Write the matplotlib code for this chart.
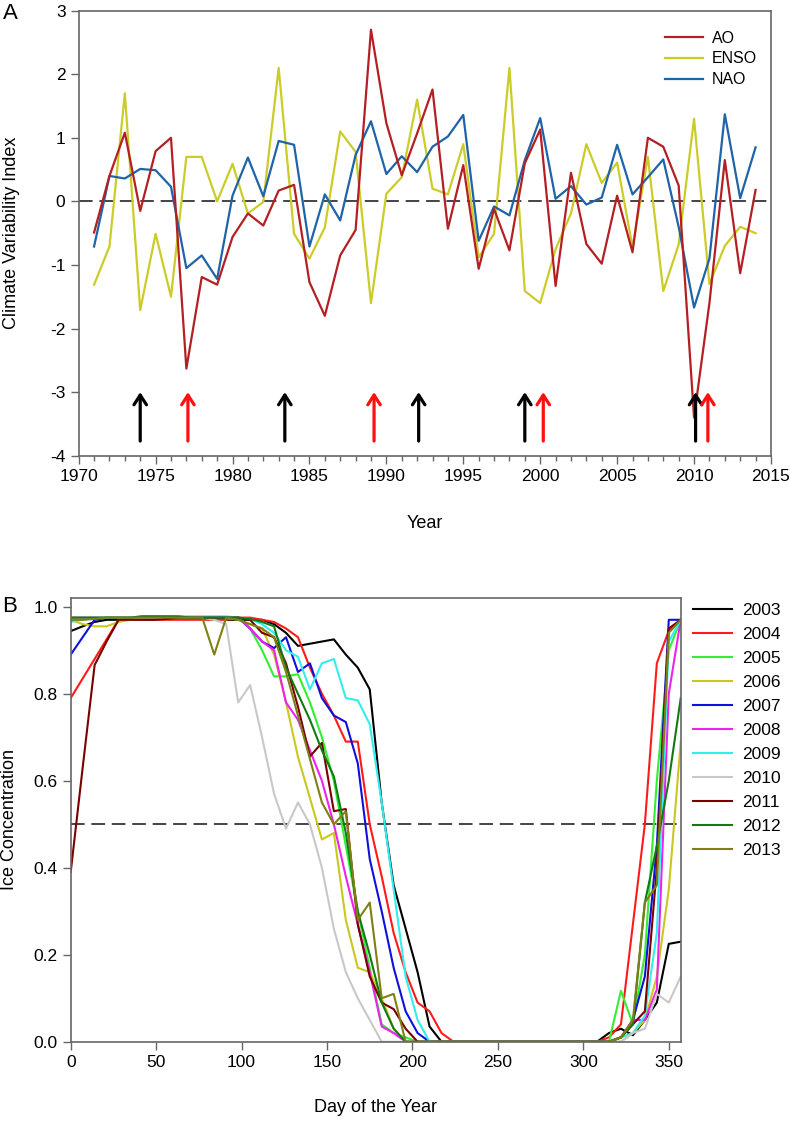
import numpy as np
import matplotlib
matplotlib.use('Agg')
import matplotlib.pyplot as plt

plt.rcParams['font.family'] = ['Liberation Sans', 'DejaVu Sans']
plt.rcParams['axes.unicode_minus'] = False

# panel A data, climate indices by year
years = list(range(1971, 2015))
ao = [-0.49, 0.40, 1.08, -0.15, 0.79, 1.00, -2.63, -1.19, -1.31, -0.56,
      -0.19, -0.38, 0.17, 0.26, -1.27, -1.80, -0.85, -0.45, 2.70, 1.23,
      0.41, 1.07, 1.76, -0.43, 0.57, -1.06, -0.12, -0.77, 0.60, 1.13,
      -1.33, 0.45, -0.67, -0.98, 0.09, -0.80, 1.00, 0.86, 0.25, -3.40,
      -1.60, 0.65, -1.13, 0.18]
enso = [-1.31, -0.71, 1.70, -1.71, -0.51, -1.50, 0.70, 0.70, 0.00, 0.59,
        -0.19, -0.01, 2.10, -0.51, -0.90, -0.41, 1.10, 0.78, -1.60, 0.12,
        0.38, 1.60, 0.20, 0.11, 0.90, -0.88, -0.51, 2.10, -1.41, -1.60,
        -0.75, -0.19, 0.90, 0.29, 0.61, -0.72, 0.70, -1.41, -0.68, 1.30,
        -1.30, -0.70, -0.40, -0.50]
nao = [-0.71, 0.40, 0.36, 0.51, 0.49, 0.23, -1.05, -0.85, -1.22, 0.09,
       0.69, 0.08, 0.95, 0.89, -0.71, 0.11, -0.30, 0.73, 1.26, 0.43,
       0.71, 0.46, 0.86, 1.02, 1.36, -0.62, -0.08, -0.22, 0.65, 1.31,
       0.04, 0.24, -0.05, 0.06, 0.89, 0.11, 0.38, 0.66, -0.40, -1.67,
       -0.90, 1.37, 0.05, 0.85]
black_arrows = [1974.0, 1983.4, 1992.1, 1999.0, 2010.1]
red_arrows = [1977.1, 1989.2, 2000.2, 2010.9]

# panel B data, weekly ice concentration
days = list(range(0, 358, 7))
zeros11 = [0.0] * 11
ice = {
    '2003': [0.944, 0.955, 0.965, 0.97, 0.97, 0.97, 0.972, 0.972, 0.975, 0.975, 0.975, 0.975, 0.975,
             0.97, 0.97, 0.97, 0.97, 0.96, 0.94, 0.91, 0.915, 0.92, 0.925, 0.89, 0.86, 0.81,
             0.55, 0.36, 0.26, 0.16, 0.035, 0.0, 0.0] + zeros11 +
            [0.0, 0.02, 0.03, 0.015, 0.05, 0.09, 0.225, 0.23],
    '2004': [0.79, 0.835, 0.88, 0.925, 0.97, 0.97, 0.97, 0.97, 0.97, 0.97, 0.97, 0.97, 0.97,
             0.97, 0.975, 0.975, 0.97, 0.965, 0.95, 0.93, 0.86, 0.80, 0.75, 0.69, 0.69, 0.50,
             0.38, 0.25, 0.16, 0.09, 0.07, 0.02, 0.0] + zeros11 +
            [0.0, 0.01, 0.04, 0.27, 0.50, 0.87, 0.945, 0.97],
    '2005': [0.975, 0.975, 0.975, 0.975, 0.975, 0.975, 0.978, 0.978, 0.978, 0.975, 0.975, 0.975, 0.975,
             0.975, 0.975, 0.95, 0.90, 0.84, 0.84, 0.845, 0.78, 0.70, 0.60, 0.45, 0.30, 0.17,
             0.04, 0.02, 0.01, 0.0, 0.0, 0.0, 0.0] + zeros11 +
            [0.0, 0.0, 0.117, 0.04, 0.20, 0.60, 0.90, 0.97],
    '2006': [0.97, 0.96, 0.955, 0.955, 0.965, 0.97, 0.972, 0.972, 0.975, 0.975, 0.975, 0.975, 0.975,
             0.975, 0.97, 0.96, 0.95, 0.89, 0.78, 0.655, 0.56, 0.465, 0.48, 0.28, 0.17, 0.16,
             0.10, 0.03, 0.0, 0.0, 0.0, 0.0, 0.0] + zeros11 +
            [0.0, 0.0, 0.0, 0.02, 0.05, 0.15, 0.35, 0.69],
    '2007': [0.89, 0.93, 0.97, 0.975, 0.975, 0.975, 0.975, 0.975, 0.975, 0.975, 0.975, 0.975, 0.975,
             0.975, 0.975, 0.95, 0.92, 0.905, 0.93, 0.85, 0.87, 0.79, 0.75, 0.735, 0.64, 0.42,
             0.30, 0.17, 0.07, 0.02, 0.0, 0.0, 0.0] + zeros11 +
            [0.0, 0.0, 0.01, 0.05, 0.15, 0.45, 0.97, 0.97],
    '2008': [0.975, 0.975, 0.975, 0.975, 0.975, 0.975, 0.975, 0.975, 0.975, 0.975, 0.975, 0.975, 0.975,
             0.975, 0.975, 0.95, 0.92, 0.90, 0.78, 0.74, 0.67, 0.60, 0.50, 0.38, 0.27, 0.16,
             0.035, 0.02, 0.0, 0.0, 0.0, 0.0, 0.0] + zeros11 +
            [0.0, 0.0, 0.01, 0.05, 0.05, 0.12, 0.80, 0.97],
    '2009': [0.965, 0.97, 0.975, 0.975, 0.975, 0.975, 0.978, 0.978, 0.978, 0.978, 0.978, 0.978, 0.978,
             0.978, 0.975, 0.972, 0.96, 0.94, 0.90, 0.885, 0.81, 0.87, 0.88, 0.79, 0.785, 0.73,
             0.55, 0.35, 0.15, 0.05, 0.0, 0.0, 0.0] + zeros11 +
            [0.0, 0.0, 0.01, 0.02, 0.06, 0.25, 0.92, 0.97],
    '2010': [0.975, 0.975, 0.975, 0.975, 0.975, 0.975, 0.975, 0.975, 0.975, 0.975, 0.975, 0.975, 0.97,
             0.96, 0.78, 0.82, 0.70, 0.57, 0.49, 0.55, 0.50, 0.40, 0.26, 0.16, 0.10, 0.05,
             0.0, 0.0, 0.0, 0.0, 0.0, 0.0, 0.0] + zeros11 +
            [0.0, 0.0, 0.0, 0.02, 0.03, 0.11, 0.09, 0.15],
    '2011': [0.39, 0.63, 0.866, 0.92, 0.97, 0.97, 0.97, 0.97, 0.972, 0.975, 0.975, 0.975, 0.975,
             0.975, 0.975, 0.97, 0.94, 0.93, 0.87, 0.77, 0.656, 0.687, 0.53, 0.535, 0.27, 0.15,
             0.09, 0.075, 0.03, 0.0, 0.0, 0.0, 0.0] + zeros11 +
            [0.0, 0.0, 0.01, 0.04, 0.07, 0.40, 0.95, 0.97],
    '2012': [0.975, 0.975, 0.975, 0.975, 0.975, 0.975, 0.978, 0.978, 0.978, 0.978, 0.975, 0.975, 0.975,
             0.975, 0.975, 0.972, 0.965, 0.955, 0.86, 0.80, 0.74, 0.67, 0.61, 0.48, 0.30, 0.20,
             0.09, 0.03, 0.0, 0.0, 0.0, 0.0, 0.0] + zeros11 +
            [0.0, 0.0, 0.01, 0.04, 0.32, 0.45, 0.60, 0.79],
    '2013': [0.97, 0.97, 0.972, 0.975, 0.975, 0.975, 0.975, 0.975, 0.975, 0.975, 0.975, 0.975, 0.89,
             0.975, 0.97, 0.96, 0.95, 0.93, 0.85, 0.75, 0.65, 0.55, 0.50, 0.53, 0.28, 0.32,
             0.10, 0.11, 0.0, 0.0, 0.0, 0.0, 0.0] + zeros11 +
            [0.0, 0.0, 0.01, 0.05, 0.32, 0.36, 0.94, 0.97],
}
ice_colors = ['#000000', '#ff1a1a', '#33ee33', '#c8c81e', '#1010dd', '#ee22ee',
              '#33eeee', '#c8c8c8', '#7a0000', '#137a13', '#7f7f14']

spine_col = '#666666'

fig = plt.figure(figsize=(7.9, 11.21), dpi=100)

# ---- panel A
axA = fig.add_axes([0.0996, 0.5935, 0.8763, 0.397])
axA.axhline(0, color='#444444', lw=1.4, dashes=(7, 3.5), zorder=1)
axA.plot(years, ao, color='#b41f24', lw=1.6, label='AO', zorder=3)
axA.plot(years, enso, color='#cccc29', lw=1.6, label='ENSO', zorder=2)
axA.plot(years, nao, color='#1f63a8', lw=1.6, label='NAO', zorder=2)
for yr in black_arrows:
    axA.annotate('', xy=(yr, -3.0), xytext=(yr, -3.77),
                 arrowprops=dict(arrowstyle='->,head_length=0.7,head_width=0.45',
                                 color='black', lw=2.3, shrinkA=0, shrinkB=0))
for yr in red_arrows:
    axA.annotate('', xy=(yr, -3.0), xytext=(yr, -3.77),
                 arrowprops=dict(arrowstyle='->,head_length=0.7,head_width=0.45',
                                 color='#ff1010', lw=2.3, shrinkA=0, shrinkB=0))
axA.set_xlim(1970, 2015)
axA.set_ylim(-4, 3)
axA.set_xticks(range(1970, 2016, 5))
axA.set_xticks(range(1970, 2016, 1), minor=True)
axA.set_yticks(range(-4, 4))
axA.tick_params(axis='both', which='major', labelsize=12.5, length=6, width=1, color=spine_col)
axA.tick_params(axis='x', which='minor', length=3.5, width=1, color=spine_col)
axA.set_xlabel('Year', fontsize=13)
axA.set_ylabel('Climate Variability Index', fontsize=13)
axA.xaxis.set_label_coords(0.5, -0.133)
axA.yaxis.set_label_coords(-0.085, 0.5)
axA.legend(loc='upper left', bbox_to_anchor=(0.847, 0.955), frameon=False, fontsize=11.5,
           handlelength=2.4, handletextpad=0.55, labelspacing=0.36, borderpad=0, borderaxespad=0)
for s in axA.spines.values():
    s.set_color(spine_col)
    s.set_linewidth(1.2)

# ---- panel B
axB = fig.add_axes([0.0895, 0.0707, 0.7722, 0.3958])
axB.axhline(0.5, color='#444444', lw=1.4, dashes=(7, 3.5), zorder=1)
for (yr, vals), col in zip(ice.items(), ice_colors):
    axB.plot(days, vals, color=col, lw=1.5, label=yr, zorder=2)
axB.set_xlim(0, 357)
axB.set_ylim(0, 1.02)
axB.set_xticks(range(0, 351, 50))
axB.set_yticks([0.0, 0.2, 0.4, 0.6, 0.8, 1.0])
axB.set_yticklabels(['0.0', '0.2', '0.4', '0.6', '0.8', '1.0'])
axB.tick_params(axis='both', which='major', labelsize=12.5, length=6, width=1, color=spine_col)
axB.set_xlabel('Day of the Year', fontsize=13)
axB.set_ylabel('Ice Concentration', fontsize=13)
axB.xaxis.set_label_coords(0.5, -0.129)
axB.yaxis.set_label_coords(-0.086, 0.5)
axB.legend(loc='upper left', bbox_to_anchor=(1.0197, 0.99), frameon=False, fontsize=12.5,
           handlelength=2.25, handletextpad=0.57, labelspacing=0.51, borderpad=0, borderaxespad=0)
for s in axB.spines.values():
    s.set_color(spine_col)
    s.set_linewidth(1.2)

fig.text(0.0127, 0.988, 'A', fontsize=16, ha='center', va='center')
fig.text(0.0127, 0.459, 'B', fontsize=16, ha='center', va='center')

fig.savefig('out.png', dpi=100)
